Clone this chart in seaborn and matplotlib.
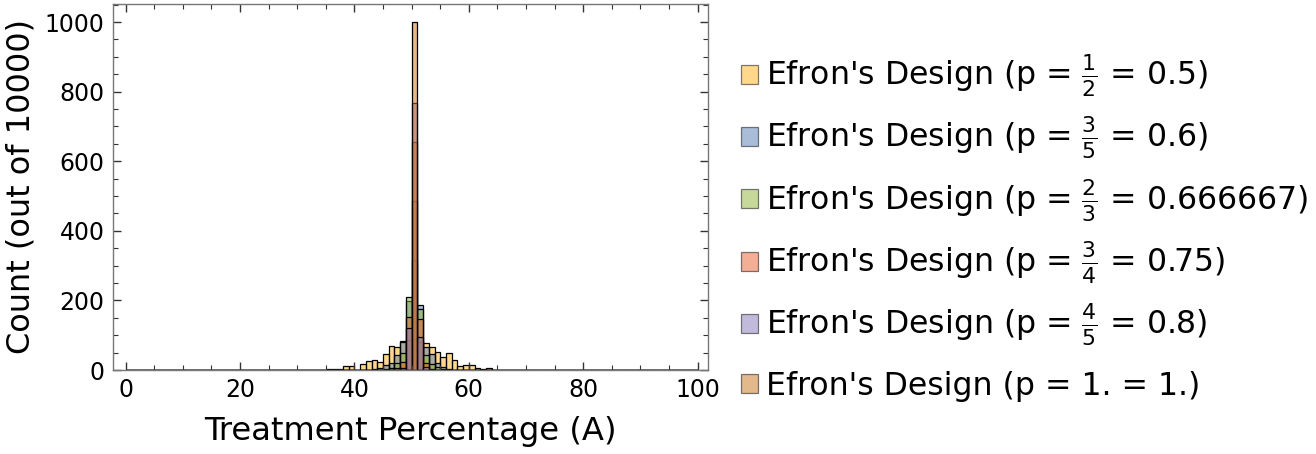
import numpy as np
import pandas as pd
import matplotlib
matplotlib.use("Agg")
import matplotlib.pyplot as plt
import seaborn as sns
from matplotlib.patches import Patch
from matplotlib.ticker import MultipleLocator

# ---------------- data ----------------
bin_left = list(range(35, 65))  # bins of width 1: [35,36) ... [64,65)

labels = [
    r"Efron's Design (p = $\frac{1}{2}$ = 0.5)",
    r"Efron's Design (p = $\frac{3}{5}$ = 0.6)",
    r"Efron's Design (p = $\frac{2}{3}$ = 0.666667)",
    r"Efron's Design (p = $\frac{3}{4}$ = 0.75)",
    r"Efron's Design (p = $\frac{4}{5}$ = 0.8)",
    r"Efron's Design (p = 1. = 1.)",
]

#           35 36 37 38  39 40 41  42  43  44  45  46  47  48  49   50   51  52  53  54  55  56  57  58  59  60 61 62 63 64
count_p050 = [2, 2, 2, 11, 11, 1, 16, 26, 28, 23, 45, 68, 65, 83, 85,  90,  80, 77, 65, 52, 36, 48, 29, 11, 14, 13, 6, 2, 5, 1]
count_p060 = [0, 0, 0, 0,  0,  0, 0,  0,  2,  7,  15, 20, 42, 80, 199, 315, 188, 67, 46, 21, 8,  3,  0,  0,  0,  0,  0, 0, 0, 0]
count_p067 = [0, 0, 0, 0,  0,  0, 0,  0,  0,  0,  2,  6,  19, 48, 209, 485, 174, 44, 18, 9,  2,  0,  0,  0,  0,  0,  0, 0, 0, 0]
count_p075 = [0, 0, 0, 0,  0,  0, 0,  0,  0,  0,  0,  0,  5,  23, 151, 656, 146, 21, 3,  0,  0,  0,  0,  0,  0,  0,  0, 0, 0, 0]
count_p080 = [0, 0, 0, 0,  0,  0, 0,  0,  0,  0,  0,  0,  0,  5,  122, 768, 96,  8,  0,  0,  0,  0,  0,  0,  0,  0,  0, 0, 0, 0]
count_p100 = [0, 0, 0, 0,  0,  0, 0,  0,  0,  0,  0,  0,  0,  0,  0,   1000, 0,  0,  0,  0,  0,  0,  0,  0,  0,  0,  0, 0, 0, 0]

x_ticks = [0, 20, 40, 60, 80, 100]
y_ticks = [0, 200, 400, 600, 800, 1000]

colors = ["#ffb31a", "#557db5", "#91b537", "#eb5f2d", "#8777b9", "#c97319"]

# ---------------- build long table ----------------
series = [count_p050, count_p060, count_p067, count_p075, count_p080, count_p100]
rows = []
for lab, cnts in zip(labels, series):
    for b, c in zip(bin_left, cnts):
        if c > 0:
            rows.append({"x": b + 0.5, "w": float(c), "design": lab})
df = pd.DataFrame(rows)

# ---------------- figure ----------------
plt.rcParams["font.family"] = ["DejaVu Sans"]
plt.rcParams["mathtext.fontset"] = "dejavusans"

W, H = 1316, 454
fig = plt.figure(figsize=(W / 100, H / 100), dpi=100)
ax = fig.add_axes([113 / W, 1 - 370 / H, (708 - 113) / W, (370 - 4) / H])

palette = dict(zip(labels, colors))
sns.histplot(
    data=df, x="x", weights="w", hue="design",
    hue_order=labels[::-1], palette=palette,
    binwidth=1, binrange=(0, 100), multiple="layer", element="bars",
    alpha=0.5, edgecolor="black", linewidth=0.9, legend=False, ax=ax,
)

ax.set_xlim(-2.2, 101.8)
ax.set_ylim(0, 1052)
ax.set_xticks(x_ticks)
ax.set_yticks(y_ticks)
ax.xaxis.set_minor_locator(MultipleLocator(5))
ax.yaxis.set_minor_locator(MultipleLocator(50))
ax.tick_params(which="both", direction="in", top=True, right=True,
               color="#333333", labelsize=17, pad=6)
ax.tick_params(which="major", length=6, width=1)
ax.tick_params(which="minor", length=3.5, width=0.8)
for s in ax.spines.values():
    s.set_color("#777777")
    s.set_linewidth(1)
ax.set_xlabel("Treatment Percentage (A)", fontsize=23.2, labelpad=10)
ax.set_ylabel("Count (out of 10000)", fontsize=23, labelpad=6)

# legend: one entry per row, rows evenly spaced as in the reference
row_centers_px = [75.7, 138.0, 200.5, 263.0, 325.0, 386.5]
for c, lab, yc in zip(colors, labels, row_centers_px):
    h = Patch(facecolor=c, alpha=0.5, edgecolor="black", linewidth=0.9)
    fig.legend([h], [lab], loc="center left",
               bbox_to_anchor=(741 / W, 1 - yc / H),
               frameon=False, fontsize=22.7, handlelength=0.55, handleheight=0.55,
               handletextpad=0.25, borderpad=0, borderaxespad=0)

fig.savefig("out.png", dpi=100)
